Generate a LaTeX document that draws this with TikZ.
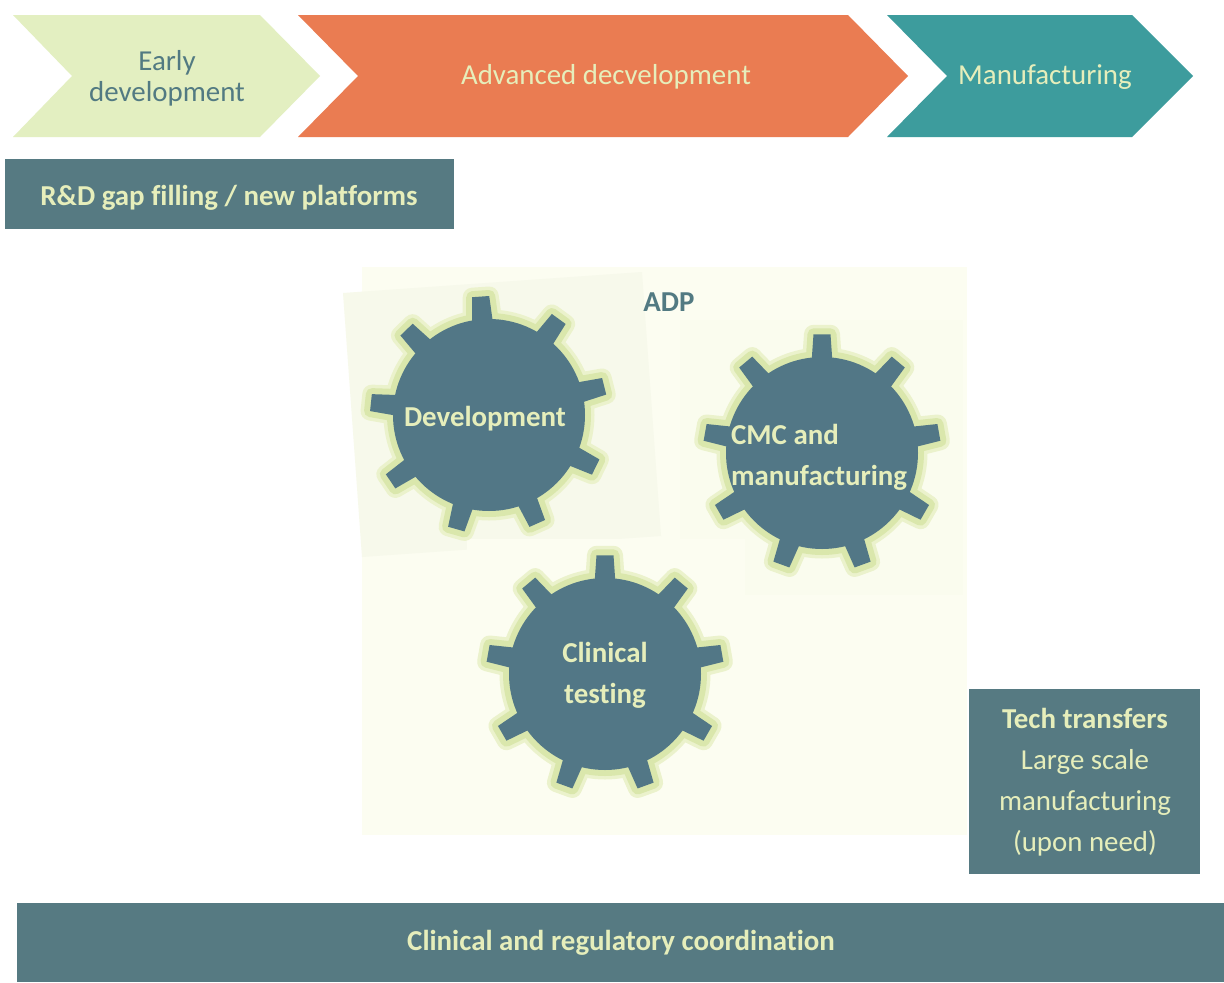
\documentclass[tikz,border=0pt]{standalone}
\usepackage{fontspec}
\setmainfont{Carlito}[Ligatures={NoCommon}]
\usetikzlibrary{calc}
\definecolor{boxc}{HTML}{567A82}
\definecolor{gearc}{HTML}{527786}
\definecolor{lighttxt}{HTML}{E6EEBB}
\definecolor{chevA}{HTML}{E3EFC1}
\definecolor{chevB}{HTML}{EA7C52}
\definecolor{chevC}{HTML}{3D9C9D}
\definecolor{darktxt}{HTML}{527A82}
\definecolor{creamA}{HTML}{FCFDF1}
\definecolor{creamB}{HTML}{F7F9EB}
\definecolor{creamC}{HTML}{FAFCEE}
\definecolor{glowA}{HTML}{EBF2CC}
\definecolor{glowB}{HTML}{DAE7AC}
\tikzset{
  lbl/.style={font=\fontsize{29}{41}\selectfont, inner sep=0pt},
  bigbold/.style={lbl, font=\fontsize{29}{41}\selectfont\bfseries, text=lighttxt},
  glowouter/.style={draw=glowA, line width=19bp, line join=round},
  glowinner/.style={draw=glowB, line width=12bp, line join=round},
  gearbody/.style={fill=gearc, draw=none}
}
\newcommand\gearteeth[2]{% #1 style, #2 offset
  \foreach \k in {0,...,8}{
    \pgfmathsetmacro\t{-(#2+40*\k)}
    \path[#1] (\t-6.5:92) -- (\t-4.1:119) -- (\t+4.1:119) -- (\t+6.5:92) -- cycle;
  }
  \path[#1] (0,0) circle (96);
}
\newcommand\drawgear[3]{%
  \begin{scope}[shift={(#1,#2)}]
    \gearteeth{glowouter}{#3}
    \gearteeth{glowinner}{#3}
    \gearteeth{gearbody}{#3}
  \end{scope}}
\begin{document}
\begin{tikzpicture}[x=1bp,y=-1bp]
\useasboundingbox (0,0) rectangle (1224,983);
\fill[white] (0,0) rectangle (1224,983);

% chevrons
\fill[chevA] (13,15) -- (260,15) -- (320,76) -- (260,137) -- (13,137) -- (72,76) -- cycle;
\fill[chevB] (298,15) -- (848,15) -- (908,76) -- (848,137) -- (298,137) -- (358,76) -- cycle;
\fill[chevC] (887,15) -- (1132,15) -- (1193,76) -- (1132,137) -- (887,137) -- (947,76) -- cycle;
\node[lbl, text=darktxt, align=center, font=\fontsize{29}{31}\selectfont] (early) at (167,78) {Early\\development};
\node[lbl, text=lighttxt] (adv) at (606,77) {Advanced decvelopment};
\node[lbl, text=lighttxt] (manu) at (1045,77) {Manufacturing};

% R&D box
\fill[boxc] (5,159) rectangle (454,229);
\node[bigbold] (rd) at (229,198) {R\&D gap filling / new platforms};

% ADP background
\fill[creamA] (362,267) rectangle (967,835);
\fill[creamB] (343,293) -- (642,272) -- (661,536) -- (362,557) -- cycle;
\fill[creamC] (680,320) rectangle (963,595);
\fill[creamA] (467,539) rectangle (745,809);
\node[lbl, font=\fontsize{29}{41}\selectfont\bfseries, text=darktxt] (adp) at (669,302) {ADP};

% gears
\drawgear{489}{415}{94}
\drawgear{822}{453}{90}
\drawgear{605}{674}{90}
\node[bigbold] (dev) at (485,419) {Development};
\node[bigbold, align=left, anchor=west] (cmc) at (731,457) {CMC and\\manufacturing};
\node[bigbold, align=center] (clin) at (605,675) {Clinical\\testing};

% tech transfers
\fill[boxc] (969,689) rectangle (1200,874);
\node[lbl, text=lighttxt, align=center] (tech) at (1085,782) {\textbf{Tech transfers}\\Large scale\\manufacturing\\(upon need)};

% bottom bar
\fill[boxc] (17,903) rectangle (1224,982);
\node[bigbold] (coord) at (621,943) {Clinical and regulatory coordination};
\end{tikzpicture}
\end{document}
